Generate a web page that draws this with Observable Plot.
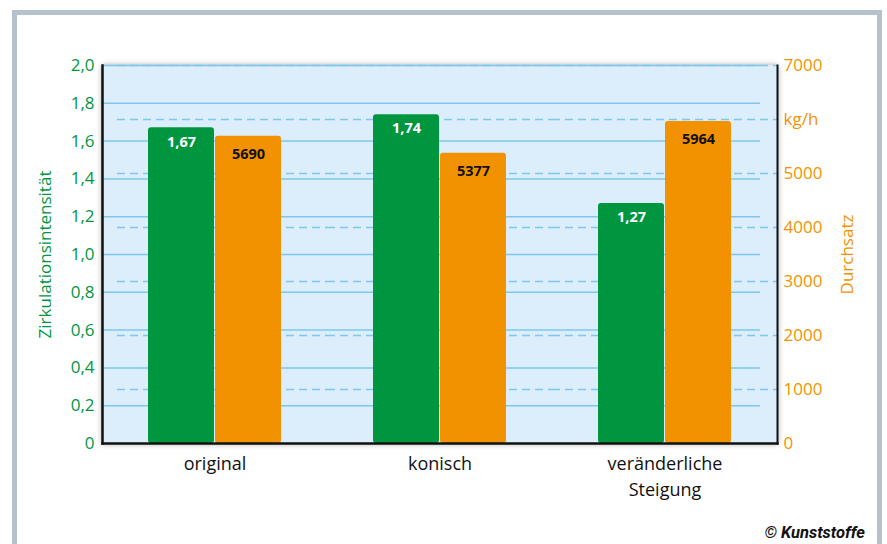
<!DOCTYPE html>
<html><head><meta charset="utf-8">
<script src="https://cdn.jsdelivr.net/npm/d3@7"></script>
<script src="https://cdn.jsdelivr.net/npm/@observablehq/plot@0.6"></script>
<style>
body{margin:0;background:#fff;}
#wrap{position:relative;width:887px;height:544px;overflow:hidden;font-family:"Open Sans",sans-serif;}
#border{position:absolute;left:12px;top:10px;width:860px;height:600px;border:5px solid #b3c2cc;}
#chart{position:absolute;left:0;top:0;}
#credit{position:absolute;right:22px;top:523px;font:italic bold 16.5px "Liberation Sans Narrow","Roboto",sans-serif;color:#111;}
</style></head>
<body><div id="wrap"><div id="border"></div><div id="chart"></div><div id="credit">© Kunststoffe</div></div>
<script>
const categories = ["original", "konisch", "veränderliche\nSteigung"];
const intensity = [1.67, 1.74, 1.27];
const throughput = [5690, 5377, 5964];
const leftTicks = [0, 0.2, 0.4, 0.6, 0.8, 1.0, 1.2, 1.4, 1.6, 1.8, 2.0];
const rightTicks = [0, 1000, 2000, 3000, 4000, 5000, 6000, 7000];
const rightUnit = "kg/h";
const leftTitle = "Zirkulationsintensität";
const rightTitle = "Durchsatz";

const leftMax = leftTicks[leftTicks.length - 1];
const rightMax = rightTicks[rightTicks.length - 1];
const toLeft = v => v * leftMax / rightMax;
const comma = v => v.toFixed(2).replace(".", ",");
const rows = categories.flatMap((c, i) => [
  {cat: c, series: "Z", value: intensity[i], y: intensity[i], label: comma(intensity[i])},
  {cat: c, series: "D", value: throughput[i], y: toLeft(throughput[i]), label: String(throughput[i])}
]);
const solidRows = categories.flatMap(c => leftTicks.slice(1).map(v => ({cat: c, y: v})));
const dashRows = categories.flatMap(c => rightTicks.slice(1).map(v => ({cat: c, y: toLeft(v)})));
const first = categories[0], last = categories[categories.length - 1];
const green = "#00963f", orange = "#f39200", gridc = "#7cc8ef";

const chart = Plot.plot({
  width: 887, height: 544,
  marginLeft: 101, marginRight: 109, marginTop: 65, marginBottom: 101,
  style: {background: "transparent", fontFamily: "'Open Sans', sans-serif", fontSize: "17px", overflow: "visible"},
  fx: {domain: categories, paddingInner: 0, paddingOuter: 0},
  x: {domain: ["Z", "D"], paddingInner: 0.01, paddingOuter: 0.66, axis: null},
  y: {domain: [0, leftMax]},
  color: {domain: ["Z", "D"], range: [green, orange]},
  marks: [
    Plot.frame({fill: "#dcedfb", facet: "super"}),
    Plot.ruleY(solidRows.filter(d => d.cat !== last), {fx: "cat", y: "y", stroke: gridc, strokeWidth: 1.5}),
    Plot.ruleY(solidRows.filter(d => d.cat === last), {fx: "cat", y: "y", stroke: gridc, strokeWidth: 1.5, insetRight: 17}),
    Plot.ruleY(dashRows.filter(d => d.cat !== first), {fx: "cat", y: "y", stroke: gridc, strokeWidth: 1.5, strokeDasharray: "8,5"}),
    Plot.ruleY(dashRows.filter(d => d.cat === first), {fx: "cat", y: "y", stroke: gridc, strokeWidth: 1.5, strokeDasharray: "8,5", insetLeft: 15}),
    Plot.barY(rows, {fx: "cat", x: "series", y: "y", fill: "series", rx: 3}),
    Plot.text(rows.filter(d => d.series === "Z"), {fx: "cat", x: "series", y: "y", text: "label", dy: 14, fill: "white", fontWeight: "bold", fontSize: 14.5}),
    Plot.text(rows.filter(d => d.series === "D"), {fx: "cat", x: "series", y: "y", text: "label", dy: 18, fill: "#111", fontWeight: "bold", fontSize: 14.5}),
    Plot.frame({anchor: "left", stroke: "#111", strokeWidth: 2.5, facet: "super"}),
    Plot.frame({anchor: "bottom", stroke: "#111", strokeWidth: 2.5, facet: "super"}),
    Plot.frame({anchor: "right", stroke: "#111", strokeWidth: 2, facet: "super"}),
    Plot.axisY(leftTicks, {anchor: "left", tickSize: 0, tickPadding: 8, tickFormat: d => d === 0 ? "0" : d.toFixed(1).replace(".", ","), color: green, label: null}),
    Plot.axisY(rightTicks, {y: toLeft, anchor: "right", tickSize: 0, tickPadding: 6, tickFormat: d => d === 6000 ? rightUnit : String(d), color: orange, label: null}),
    Plot.axisFx({anchor: "bottom", tickSize: 0, tickPadding: 9, label: null, lineHeight: 1.4, fill: "#111", fontSize: 18}),
    Plot.text([leftTitle], {frameAnchor: "left", textAnchor: "middle", rotate: -90, dx: -57, fill: green, facet: "super", fontSize: 17}),
    Plot.text([rightTitle], {frameAnchor: "right", textAnchor: "middle", rotate: -90, dx: 70, fill: orange, facet: "super", fontSize: 17})
  ]
});
document.getElementById("chart").appendChild(chart);
const svg = d3.select(chart.tagName.toLowerCase() === "svg" ? chart : chart.querySelector("svg"));
svg.insert("defs", ":first-child").html('<filter id="sh" x="-5%" y="-5%" width="110%" height="110%"><feDropShadow dx="0" dy="0" stdDeviation="3" flood-color="#000" flood-opacity="0.4"/></filter>');
svg.select('[aria-label="frame"]').attr("filter", "url(#sh)");
</script>
</body></html>
